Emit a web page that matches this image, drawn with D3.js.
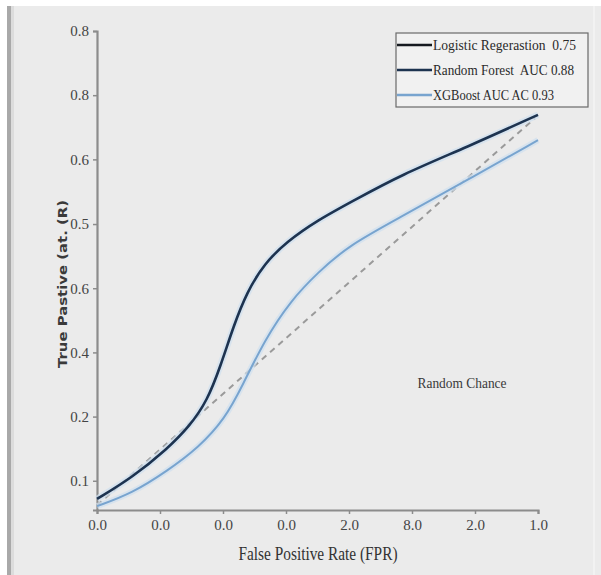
<!DOCTYPE html>
<html>
<head>
<meta charset="utf-8">
<script src="https://cdn.jsdelivr.net/npm/d3@7"></script>
<style>
  body { margin: 0; background: #fff; }
  svg { display: block; }
</style>
</head>
<body>
<div id="chart"></div>
<script>
// tick labels as printed on the chart
const xTickLabels = ["0.0", "0.0", "0.0", "0.0", "2.0", "8.0", "2.0", "1.0"];
const xTickVals = [0, 1/7, 2/7, 3/7, 4/7, 5/7, 6/7, 1];
const yTickLabels = ["0.1", "0.2", "0.4", "0.6", "0.5", "0.6", "0.8", "0.8"];
const yTickVals = [0.061, 0.195, 0.329, 0.463, 0.597, 0.732, 0.866, 1.0];

// curves (fpr, tpr)
const forestFpr = [0, 0.08, 0.16, 0.21, 0.25, 0.28, 0.31, 0.34, 0.38, 0.43, 0.50, 0.58, 0.69, 0.84, 1.0];
const forestTpr = [0.023, 0.068, 0.128, 0.175, 0.228, 0.300, 0.385, 0.455, 0.515, 0.560, 0.605, 0.645, 0.700, 0.758, 0.825];
const xgbFpr = [0, 0.08, 0.16, 0.23, 0.29, 0.33, 0.38, 0.44, 0.50, 0.57, 0.69, 0.84, 1.0];
const xgbTpr = [0.008, 0.035, 0.082, 0.130, 0.190, 0.260, 0.355, 0.438, 0.495, 0.552, 0.612, 0.689, 0.772];
const chanceFpr = [0, 0.993];
const chanceTpr = [0.010, 0.818];

const legendLabels = ["Logistic Regerastion  0.75", "Random Forest  AUC 0.88", "XGBoost AUC AC 0.93"];
const legendColors = ["#15191f", "#1d3350", "#78a4cf"];

const W = 601, H = 575;
const margin = {left: 97, right: 63, top: 31, bottom: 65};
const width = W - margin.left - margin.right;
const height = H - margin.top - margin.bottom;

const svg = d3.select("#chart").append("svg")
    .attr("width", W).attr("height", H);

// panel background + left frame line
svg.append("rect").attr("x", 7).attr("y", 6).attr("width", W - 7).attr("height", H - 6).attr("fill", "#ebebeb");
svg.append("rect").attr("x", 7).attr("y", 6).attr("width", 4).attr("height", H - 6).attr("fill", "#a9a9a9");
svg.append("rect").attr("x", 11).attr("y", 6).attr("width", 3).attr("height", H - 6).attr("fill", "#dcdcdc");
svg.append("rect").attr("x", 593).attr("y", 6).attr("width", 2).attr("height", H - 6).attr("fill", "#f2f2f2");

const g = svg.append("g").attr("transform", `translate(${margin.left},${margin.top})`);

const x = d3.scaleLinear().domain([0, 1]).range([0, width]);
const y = d3.scaleLinear().domain([0, 1]).range([height, 0]);

const xAxis = d3.axisBottom(x).tickValues(xTickVals).tickSize(4).tickPadding(5)
    .tickFormat((d, i) => xTickLabels[i]);
const yAxis = d3.axisLeft(y).tickValues(yTickVals).tickSize(4).tickPadding(4)
    .tickFormat((d, i) => yTickLabels[i]);

const axisColor = "#8c8c8c";
const xg = g.append("g").attr("transform", `translate(0,${height})`).call(xAxis);
const yg = g.append("g").call(yAxis);
[xg, yg].forEach(a => {
    a.select(".domain").attr("stroke", axisColor).attr("stroke-width", 2.2);
    a.selectAll(".tick line").attr("stroke", axisColor).attr("stroke-width", 1.5);
    a.selectAll(".tick text").attr("fill", "#444")
        .style("font-family", "'Liberation Serif', serif").style("font-size", "15px");
});

const line = d3.line().x(d => x(d[0])).y(d => y(d[1])).curve(d3.curveBasis);
const zip = (a, b) => a.map((v, i) => [v, b[i]]);

// random chance diagonal
g.append("path").datum(zip(chanceFpr, chanceTpr))
    .attr("d", line).attr("fill", "none")
    .attr("stroke", "#9a9a9a").attr("stroke-width", 2).attr("stroke-dasharray", "6,5");

// soft halos then lines
[[xgbFpr, xgbTpr, 2], [forestFpr, forestTpr, 2.6]].forEach(([fx, fy, w]) => {
    g.append("path").datum(zip(fx, fy)).attr("d", line).attr("fill", "none")
        .attr("stroke", "#cfe0f0").attr("stroke-width", w + 4).attr("stroke-opacity", 0.7);
});
g.append("path").datum(zip(xgbFpr, xgbTpr)).attr("d", line).attr("fill", "none")
    .attr("stroke", legendColors[2]).attr("stroke-width", 2);
g.append("path").datum(zip(forestFpr, forestTpr)).attr("d", line).attr("fill", "none")
    .attr("stroke", legendColors[1]).attr("stroke-width", 2.6);

// annotation
svg.append("text").attr("x", 462).attr("y", 388).attr("text-anchor", "middle")
    .style("font-family", "'Liberation Serif', serif").style("font-size", "14px")
    .attr("fill", "#3a3a3a").attr("textLength", 89).attr("lengthAdjust", "spacingAndGlyphs")
    .text("Random Chance");

// axis titles
svg.append("text").attr("x", 318).attr("y", 560).attr("text-anchor", "middle")
    .style("font-family", "'Liberation Serif', serif").style("font-size", "18px")
    .attr("fill", "#333").attr("textLength", 159).attr("lengthAdjust", "spacingAndGlyphs")
    .text("False Positive Rate (FPR)");
svg.append("text").attr("transform", "translate(67,284) rotate(-90)").attr("text-anchor", "middle")
    .style("font-family", "'DejaVu Sans', sans-serif").style("font-size", "13px").style("font-weight", "bold")
    .attr("fill", "#3a3a3a").attr("textLength", 168).attr("lengthAdjust", "spacingAndGlyphs")
    .text("True Pastive (at. (R)");

// legend
const lg = svg.append("g").attr("transform", "translate(396,33)");
lg.append("rect").attr("width", 192).attr("height", 74)
    .attr("fill", "#f1f1f1").attr("stroke", "#6a6a6a").attr("stroke-width", 1.2);
const legendWidths = [143, 141, 121];
legendLabels.forEach((lab, i) => {
    const yy = 12 + i * 25;
    lg.append("line").attr("x1", 1).attr("x2", 36).attr("y1", yy).attr("y2", yy)
        .attr("stroke", legendColors[i]).attr("stroke-width", 2.6);
    lg.append("text").attr("x", 37).attr("y", yy + 5)
        .style("font-family", "'Liberation Serif', serif").style("font-size", "14px")
        .style("white-space", "pre")
        .attr("fill", "#2a2a2a").attr("textLength", legendWidths[i]).attr("lengthAdjust", "spacingAndGlyphs")
        .text(lab);
});
</script>
</body>
</html>
